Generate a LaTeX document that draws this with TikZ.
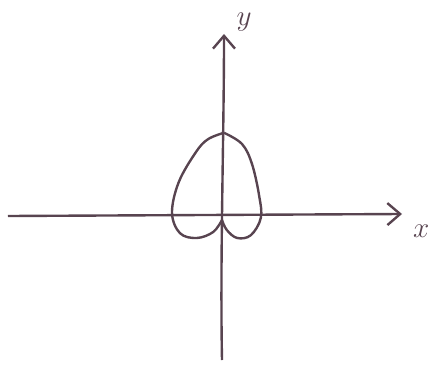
\documentclass[tikz,border=0pt]{standalone}
\usetikzlibrary{arrows.meta}
\definecolor{pen}{RGB}{88,68,80}
\tikzset{
	axis/.style = {draw = pen, line width = 1.7pt, -{Straight Barb[length = 3.2mm, width = 5.5mm]}},
	curve/.style = {draw = pen, line width = 1.7pt, line join = round},
	axislabel/.style = {text = pen, font = \huge}
}
\begin{document}
\begin{tikzpicture}
	\useasboundingbox (-5.55,-3.75) rectangle (5.225,5.4);
	\coordinate (xstart) at (-5.35,0);
	\coordinate (xend) at (4.5,0.05);
	\coordinate (ystart) at (0,-3.6);
	\coordinate (yend) at (0.05,4.55);
	\draw [axis] (xstart) -- (xend);
	\draw [axis] (ystart) .. controls (-0.05,-1) and (0.05,2) .. (yend);
	\node [axislabel] (xlab) at (4.98,-0.38) {$x$};
	\node [axislabel] (ylab) at (0.55,4.85) {$y$};
	% the heart shaped curve, right lobe then left lobe
	\draw [curve] plot [smooth, tension = 0.6] coordinates {(0.05,2.08) (0.5,1.8) (0.75,1.3) (0.93,0.5) (0.97,-0.05) (0.72,-0.48) (0.38,-0.55) (0.12,-0.35) (0,-0.1)};
	\draw [curve] plot [smooth, tension = 0.6] coordinates {(0.05,2.08) (-0.35,1.92) (-0.65,1.6) (-1.08,0.85) (-1.25,0.08) (-1.05,-0.43) (-0.63,-0.55) (-0.22,-0.4) (0,-0.1)};
\end{tikzpicture}
\end{document}
